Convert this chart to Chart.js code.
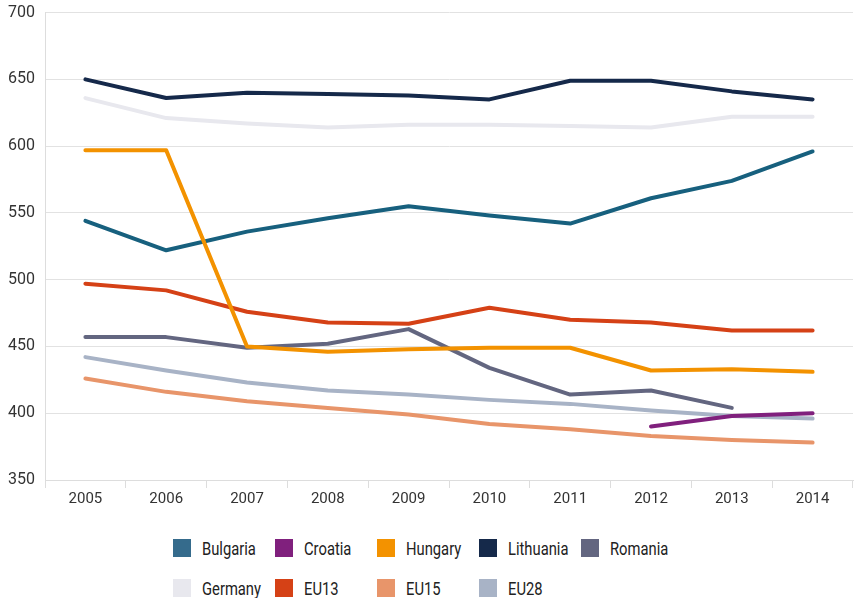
<!DOCTYPE html>
<html lang="en">
<head>
    <meta charset="UTF-8">
    <title>Line chart 2005-2014</title>
    <script src="https://cdn.jsdelivr.net/npm/chart.js"></script>
    <style>
        body {
            margin: 0;
            background: #ffffff;
            font-family: "Liberation Sans Narrow", "Roboto", sans-serif;
            overflow: hidden;
        }
        .wrap {
            position: relative;
            width: 854px;
            height: 598px;
            overflow: hidden;
        }
        .chart-box {
            position: absolute;
            left: 0;
            top: -7px;
            width: 854px;
            height: 517px;
        }
        #legend {
            position: absolute;
            left: 173px;
            top: 538px;
            display: grid;
            grid-template-columns: repeat(5, 102px);
            row-gap: 20px;
        }
        .item {
            display: flex;
            align-items: center;
            height: 20px;
            color: #222;
            white-space: nowrap;
        }
        .box {
            width: 18px;
            height: 18px;
            margin-right: 11px;
            flex: none;
        }
        .txt {
            display: inline-block;
            font-size: 18px;
            transform: scaleX(0.82);
            transform-origin: left center;
        }
    </style>
</head>
<body>
    <div class="wrap">
        <div class="chart-box"><canvas id="chart"></canvas></div>
        <div id="legend"></div>
    </div>
    <script>
        // values
        const years = ['2005', '2006', '2007', '2008', '2009', '2010', '2011', '2012', '2013', '2014'];

        const bulgaria  = [544, 522, 536, 546, 555, 548, 542, 561, 574, 596];
        const croatia   = [null, null, null, null, null, null, null, 390, 398, 400];
        const hungary   = [597, 597, 450, 446, 448, 449, 449, 432, 433, 431];
        const lithuania = [650, 636, 640, 639, 638, 635, 649, 649, 641, 635];
        const romania   = [457, 457, 449, 452, 463, 434, 414, 417, 404, null];
        const germany   = [636, 621, 617, 614, 616, 616, 615, 614, 622, 622];
        const eu13      = [497, 492, 476, 468, 467, 479, 470, 468, 462, 462];
        const eu15      = [426, 416, 409, 404, 399, 392, 388, 383, 380, 378];
        const eu28      = [442, 432, 423, 417, 414, 410, 407, 402, 398, 396];

        const yTicks = [350, 400, 450, 500, 550, 600, 650, 700];

        const series = [
            { label: 'Bulgaria',  data: bulgaria,  line: '#17607e', swatch: '#356b8c', order: 3 },
            { label: 'Croatia',   data: croatia,   line: '#80207d', swatch: '#80207d', order: 1 },
            { label: 'Hungary',   data: hungary,   line: '#f39200', swatch: '#f39200', order: 0 },
            { label: 'Lithuania', data: lithuania, line: '#15294a', swatch: '#15294a', order: 4 },
            { label: 'Romania',   data: romania,   line: '#636680', swatch: '#636680', order: 5 },
            { label: 'Germany',   data: germany,   line: '#e8e8ee', swatch: '#e8e8ee', order: 6 },
            { label: 'EU13',      data: eu13,      line: '#d54116', swatch: '#d54116', order: 2 },
            { label: 'EU15',      data: eu15,      line: '#e8956a', swatch: '#e8956a', order: 8 },
            { label: 'EU28',      data: eu28,      line: '#a8b3c6', swatch: '#a8b3c6', order: 7 }
        ];

        const fontFamily = '"Liberation Sans Narrow", "Roboto", sans-serif';

        new Chart(document.getElementById('chart'), {
            type: 'line',
            data: {
                labels: years,
                datasets: series.map(s => ({
                    label: s.label,
                    data: s.data,
                    borderColor: s.line,
                    backgroundColor: s.swatch,
                    borderWidth: 4,
                    borderCapStyle: 'round',
                    borderJoinStyle: 'round',
                    pointRadius: 0,
                    tension: 0,
                    order: s.order
                }))
            },
            options: {
                responsive: true,
                maintainAspectRatio: false,
                animation: false,
                layout: { padding: { top: 4, right: 1, left: 0, bottom: 0 } },
                plugins: {
                    legend: { display: false },
                    tooltip: { enabled: false }
                },
                scales: {
                    x: {
                        offset: true,
                        grid: {
                            offset: true,
                            drawOnChartArea: false,
                            drawTicks: true,
                            tickLength: 8,
                            color: '#dddddd'
                        },
                        border: { color: '#dddddd' },
                        ticks: {
                            color: '#333333',
                            padding: 2,
                            font: { family: fontFamily, size: 15 }
                        }
                    },
                    y: {
                        min: 350,
                        max: 700,
                        afterFit: axis => { axis.width = 45; },
                        afterBuildTicks: axis => { axis.ticks = yTicks.map(v => ({ value: v })); },
                        grid: {
                            color: '#e2e2e2',
                            drawTicks: false
                        },
                        border: { color: '#dddddd' },
                        ticks: {
                            color: '#333333',
                            padding: 10,
                            font: { family: fontFamily, size: 16 }
                        }
                    }
                }
            }
        });

        // legend laid out in two rows like the original
        const legend = document.getElementById('legend');
        series.forEach(s => {
            const item = document.createElement('div');
            item.className = 'item';
            item.innerHTML = '<span class="box" style="background:' + s.swatch + '"></span>' +
                '<span class="txt">' + s.label + '</span>';
            legend.appendChild(item);
        });
    </script>
</body>
</html>
